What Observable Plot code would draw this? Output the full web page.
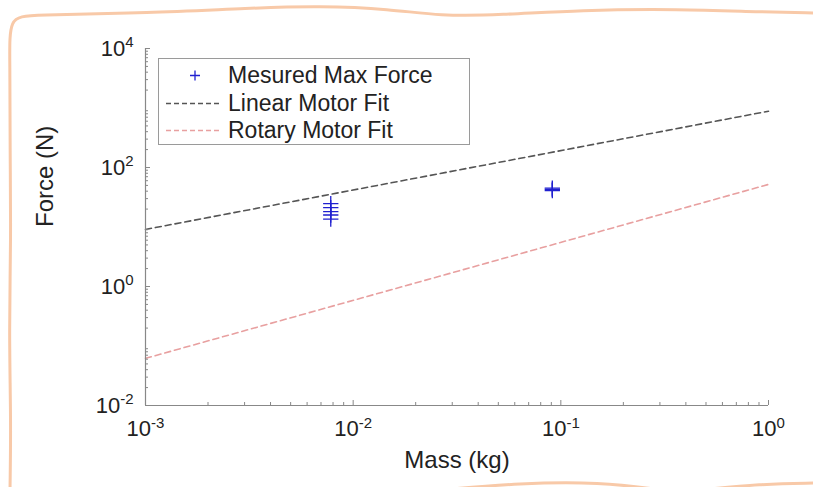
<!DOCTYPE html>
<html>
<head>
<meta charset="utf-8">
<script src="https://cdn.jsdelivr.net/npm/d3@7"></script>
<script src="https://cdn.jsdelivr.net/npm/@observablehq/plot@0.6"></script>
<style>
  html, body { margin: 0; padding: 0; background: #fff; overflow: hidden; }
  body { width: 813px; height: 487px; position: relative; font-family: "Liberation Sans", Arial, sans-serif; }
  #chart { position: absolute; left: 0; top: 0; }
  #deco { position: absolute; left: 0; top: 0; pointer-events: none; }
  #legend { position: absolute; left: 158px; top: 58px; width: 312px; height: 87px; border: 1px solid #9a9a9a; box-sizing: border-box; background: #fff; font-size: 23px; color: #222; }
  #legend .row { position: absolute; left: 0; height: 27px; display: flex; align-items: center; }
  #legend svg { width: 62px; height: 27px; margin-left: 5px; margin-right: 2px; }
</style>
</head>
<body>
<div id="chart"></div>
<div id="legend"></div>
<svg id="deco" width="813" height="487"></svg>
<script>
// Measured maximum force points
const measuredMass = [0.0078, 0.0078, 0.0078, 0.0078, 0.0078, 0.091, 0.091, 0.091];
const measuredForce = [24.7, 21.2, 18.1, 15.9, 13.6, 41, 43, 45];
// Fit lines (endpoints)
const fitMass = [0.001, 1];
const linearFit = [9.1, 884];
const rotaryFit = [0.062, 52];
// Axis tick labels (exponents)
const xExponents = [-3, -2, -1, 0];
const yExponents = [-2, 0, 2, 4];
const seriesNames = ["Mesured Max Force", "Linear Motor Fit", "Rotary Motor Fit"];
const seriesColors = ["#2020d0", "#555555", "#e8a0a0"];

const measured = measuredMass.map((m, i) => ({m, f: measuredForce[i]}));
const linear = fitMass.map((m, i) => ({m, f: linearFit[i]}));
const rotary = fitMass.map((m, i) => ({m, f: rotaryFit[i]}));

function minorTicks(lo, hi) {
  const t = [];
  for (let e = lo; e < hi; e++) for (let k = 2; k <= 9; k++) t.push(k * Math.pow(10, e));
  return t;
}
const fmt = d => "10^" + Math.round(Math.log10(d));
const blank = () => "";

const plot = Plot.plot({
  width: 813, height: 487,
  marginTop: 48, marginBottom: 82, marginLeft: 145, marginRight: 45,
  style: {fontFamily: "Liberation Sans, Arial, sans-serif", background: "transparent", overflow: "visible"},
  x: {type: "log", domain: [1e-3, 1]},
  y: {type: "log", domain: [1e-2, 1e4]},
  marks: [
    Plot.line(linear, {x: "m", y: "f", stroke: seriesColors[1], strokeWidth: 1.6, strokeDasharray: "6,4"}),
    Plot.line(rotary, {x: "m", y: "f", stroke: seriesColors[2], strokeWidth: 1.6, strokeDasharray: "6,4"}),
    Plot.dot(measured, {x: "m", y: "f", symbol: "plus", r: 5, stroke: seriesColors[0], strokeWidth: 1.3}),
    Plot.ruleX([1e-3], {stroke: "#888", strokeWidth: 1.2}),
    Plot.ruleY([1e-2], {stroke: "#888", strokeWidth: 1.2}),
    Plot.axisX(minorTicks(-3, 0), {tickSize: -3, stroke: "#888", tickFormat: blank, label: null}),
    Plot.axisY(minorTicks(-2, 4), {tickSize: -3, stroke: "#888", tickFormat: blank, label: null}),
    Plot.axisX(xExponents.map(e => Math.pow(10, e)), {tickSize: -5, stroke: "#888", tickFormat: fmt, tickPadding: 20, fontSize: 22, fill: "#222", label: null}),
    Plot.axisY(yExponents.map(e => Math.pow(10, e)), {tickSize: -5, stroke: "#888", tickFormat: fmt, tickPadding: 17, fontSize: 22, fill: "#222", label: null}),
    Plot.text(["Mass (kg)"], {frameAnchor: "bottom", dy: 62, fontSize: 24, fill: "#222"}),
    Plot.text(["Force (N)"], {frameAnchor: "left", dx: -100, rotate: -90, fontSize: 24, fill: "#222"})
  ]
});
document.getElementById("chart").appendChild(plot);

// superscript exponents in tick labels
plot.querySelectorAll("text").forEach(t => {
  const s = t.textContent;
  if (/^10\^-?\d+$/.test(s)) {
    const e = s.split("^")[1];
    t.textContent = "";
    const a = document.createElementNS("http://www.w3.org/2000/svg", "tspan");
    a.textContent = "10";
    const b = document.createElementNS("http://www.w3.org/2000/svg", "tspan");
    b.textContent = e;
    b.setAttribute("dy", "-0.55em");
    b.setAttribute("font-size", "15");
    t.appendChild(a); t.appendChild(b);
  }
});

// legend
const legend = document.getElementById("legend");
seriesNames.forEach((name, i) => {
  const row = document.createElement("div");
  row.className = "row";
  row.style.top = (3 + i * 27.5) + "px";
  let sw;
  if (i === 0) {
    sw = `<svg><path d="M31,8.5v10M26,13.5h10" stroke="${seriesColors[0]}" stroke-width="1.3"/></svg>`;
  } else {
    sw = `<svg><line x1="2" x2="58" y1="13.5" y2="13.5" stroke="${seriesColors[i]}" stroke-width="1.4" stroke-dasharray="5,3"/></svg>`;
  }
  row.innerHTML = sw + `<span>${name}</span>`;
  legend.appendChild(row);
});

// decorative wavy paper border (not chart data)
const deco = d3.select("#deco");
const curve = d3.line().curve(d3.curveBasis);
const borderPaths = [
  [[10,490],[11,420],[9,330],[11,240],[10,150],[10,60],[9,17],[30,15],[150,13],[250,8],[320,6],[390,9],[440,16],[500,15],[580,10],[680,9],[760,12],[815,13]],
  [[440,490],[520,483],[600,482],[662,490]],
  [[700,490],[760,484],[815,483]]
];
borderPaths.forEach(p => deco.append("path").attr("d", curve(p)).attr("fill", "none")
  .attr("stroke", "#f8c9a8").attr("stroke-width", 3).attr("stroke-linecap", "round"));
</script>
</body>
</html>
